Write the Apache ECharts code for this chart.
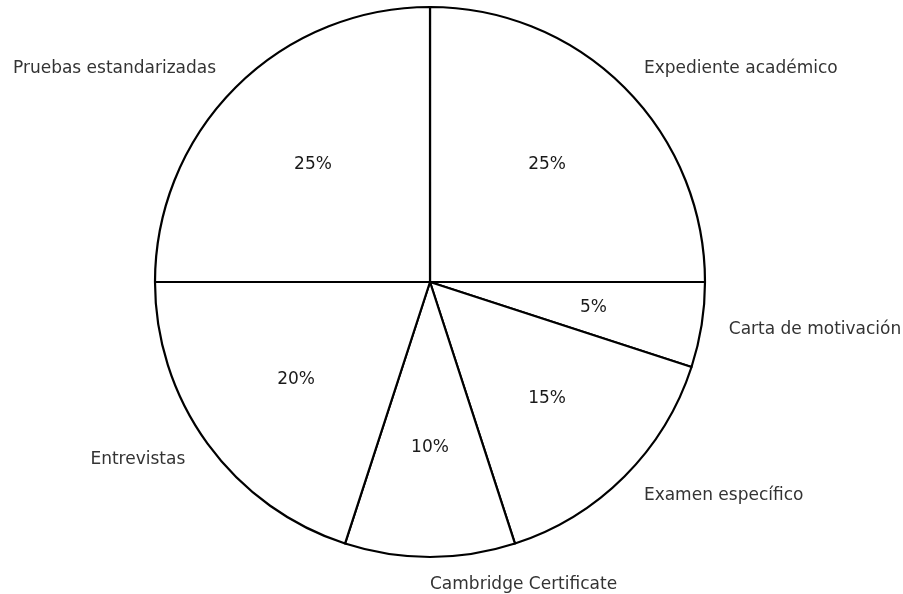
<!DOCTYPE html>
<html>
<head>
<meta charset="utf-8">
<script src="https://cdn.jsdelivr.net/npm/echarts@6/dist/echarts.min.js"></script>
<style>html,body{margin:0;padding:0;background:#fff}#c{width:903px;height:594px}</style>
</head>
<body>
<div id="c"></div>
<script>
const categories = ['Expediente académico', 'Carta de motivación', 'Examen específico', 'Cambridge Certificate', 'Entrevistas', 'Pruebas estandarizadas'];
const values = [25, 5, 15, 10, 20, 25];

const chart = echarts.init(document.getElementById('c'), null, {renderer: 'canvas'});
const data = categories.map((name, i) => ({name: name, value: values[i]}));
const font = 'DejaVu Sans';
chart.setOption({
  animation: false,
  backgroundColor: '#ffffff',
  series: [
    {
      type: 'pie',
      center: [430, 282],
      radius: [0, 275],
      startAngle: 90,
      clockwise: true,
      avoidLabelOverlap: false,
      data: data,
      itemStyle: {color: '#ffffff', borderColor: '#000000', borderWidth: 2.2},
      label: {
        show: true, position: 'outside', formatter: '{b}',
        fontFamily: font, fontSize: 17, color: '#333333', distanceToLabelLine: 0,
        padding: [3, 0, 0, 0]
      },
      labelLine: {show: false, length: 27.5, length2: 0},
      emphasis: {disabled: true}
    },
    {
      type: 'pie',
      center: [430, 282],
      radius: [0, 325],
      startAngle: 90,
      clockwise: true,
      silent: true,
      avoidLabelOverlap: false,
      data: data,
      itemStyle: {color: 'rgba(0,0,0,0)', borderWidth: 0},
      label: {
        show: true, position: 'inside',
        formatter: p => p.value + '%',
        fontFamily: font, fontSize: 17, color: '#1a1a1a'
      },
      labelLine: {show: false},
      emphasis: {disabled: true}
    }
  ]
});
</script>
</body>
</html>
